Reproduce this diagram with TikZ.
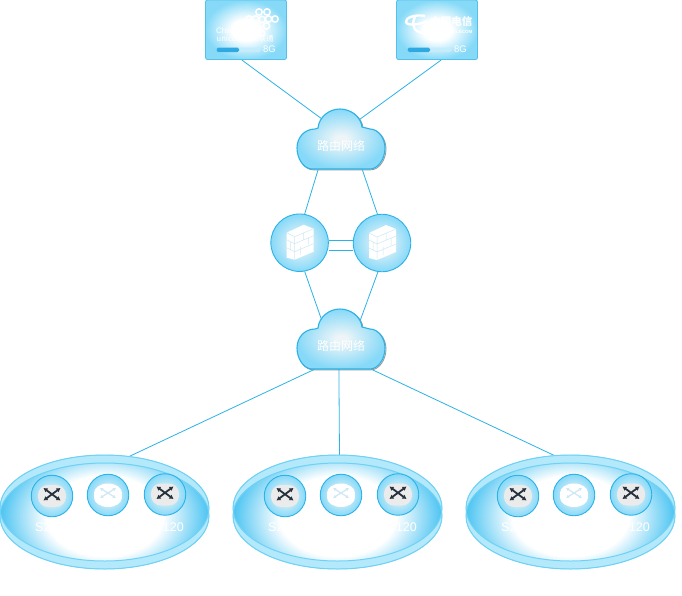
\documentclass[tikz,border=0pt]{standalone}
\usepackage{fontspec}
\setmainfont{Liberation Sans}
\newfontfamily\cjkfont{Noto Sans CJK SC}
\usetikzlibrary{arrows.meta,backgrounds,shapes.geometric}

\definecolor{linkblue}{HTML}{2BB2E6}
\definecolor{rimblue}{HTML}{6FD2F5}
\definecolor{bandblue}{HTML}{B4E8FB}
\definecolor{diskblue}{HTML}{4CC4F2}
\definecolor{boxblue}{HTML}{86DAF8}
\definecolor{ballblue}{HTML}{86D9F8}
\definecolor{ballcore}{HTML}{EEF5F8}
\definecolor{iconink}{HTML}{27313D}
\definecolor{brickline}{HTML}{CFE8F4}
\definecolor{trackblue}{HTML}{C5ECFB}
\definecolor{barblue}{HTML}{2EA9E2}

\pgfdeclareradialshading{diskglow}{\pgfpoint{0bp}{0bp}}{color(0bp)=(white); color(14bp)=(white); color(25bp)=(diskblue); color(50bp)=(diskblue)}
\pgfdeclareradialshading{boxglow}{\pgfpoint{0bp}{0bp}}{color(0bp)=(white); color(9bp)=(white); color(25bp)=(boxblue); color(50bp)=(boxblue)}
\pgfdeclareradialshading{ballglow}{\pgfpoint{0bp}{0bp}}{color(0bp)=(ballcore); color(3bp)=(ballcore); color(25bp)=(ballblue); color(50bp)=(ballblue)}

\newcommand{\cloudpath}{(-29,60) .. controls (-37,60) and (-44,50) .. (-44,39)
  .. controls (-44,28) and (-36,20) .. (-26,20) -- (-23,19)
  .. controls (-22,8) and (-12,0) .. (-1,0) .. controls (10,0) and (20,8) .. (21,18)
  -- (29,20) .. controls (37,20) and (44,29) .. (44,39)
  .. controls (44,50) and (37,60) .. (29,60) -- cycle}

% name, y of the top
\newcommand{\netcloud}[2]{
  \begin{scope}[shift={(341,#2)}]
    \draw[gray!80, line width=.9pt, shift={(1,.8)}] \cloudpath;
    \draw[linkblue, line width=1.1pt, shading=ballglow] \cloudpath;
    \node[cloudbox] (#1) at (0,30) {};
    \node[netlabel] (#1t) at (0,37) {路由网络};
  \end{scope}
}

% name, centre x
\newcommand{\groupdisk}[2]{
  \fill[bandblue, draw=rimblue] (#2,508) ellipse [x radius=104.5, y radius=53];
  \fill[bandblue, draw=rimblue] (#2,516) ellipse [x radius=104.5, y radius=53];
  \begin{scope}
    \clip (#2,508) ellipse [x radius=104.5, y radius=53];
    \clip (#2,516) ellipse [x radius=104.5, y radius=53];
    \shade[shading=diskglow] (#2,516) ellipse [x radius=104.5, y radius=72];
  \end{scope}
  \draw[rimblue, line width=1pt] (#2,508) ellipse [x radius=104.5, y radius=53];
  \draw[rimblue, line width=1pt] (#2,516) ellipse [x radius=104.5, y radius=53];
  \node[groupbox] (#1) at (#2,512) {};
}

% name, centre
\newcommand{\switchball}[2]{
  \node[ballnode, minimum size=41.5pt] (#1) at (#2) {};
  \begin{scope}[shift={(#2)}]
    \fill[gray!16, rounded corners=10pt] (-14,-11) rectangle (14,11);
    \draw[iconink, line width=1.8pt, {Latex[length=4pt,width=5pt]}-{Latex[length=4pt,width=5pt]}] (-8.5,-8) -- (8.5,4.5);
    \draw[iconink, line width=1.8pt, {Latex[length=4pt,width=5pt]}-{Latex[length=4pt,width=5pt]}] (-8.5,4.5) -- (8.5,-8);
  \end{scope}
}

\newcommand{\routerball}[2]{
  \node[ballnode, minimum size=41.5pt] (#1) at (#2) {};
  \begin{scope}[shift={(#2)}]
    \fill[white] (0,2.5) ellipse [x radius=14, y radius=9.5];
    \fill[white] (-14,-2) rectangle (14,2.5);
    \draw[brickline, line width=.4pt] (-14,-2) .. controls (-12,6) and (12,6) .. (14,-2);
    \fill[white] (0,-2) ellipse [x radius=14, y radius=9.5];
    \draw[brickline, line width=1.2pt, {Latex[length=3pt,width=3.5pt]}-{Latex[length=3pt,width=3.5pt]}] (-8,-7) -- (8,3);
    \draw[brickline, line width=1.2pt, {Latex[length=3pt,width=3.5pt]}-{Latex[length=3pt,width=3.5pt]}] (-8,3) -- (8,-7);
  \end{scope}
}

\newcommand{\firewallball}[2]{
  \node[ballnode, minimum size=57.5pt] (#1) at (#2) {};
  \begin{scope}[shift={(#2)}]
    \fill[white] (-13,-10) -- (4,-18) -- (14,-14) -- (14,9) -- (-5,17) -- (-13,15) -- cycle;
    \draw[brickline, line width=.5pt] (-13,-10) -- (-5,-6) -- (14,-14) (-5,-6) -- (-5,17)
      (-5,1) -- (14,-7) (-5,9) -- (14,1) (-13,-3) -- (-5,1) (-13,5) -- (-5,9)
      (4,-10) -- (4,-3) (9,-5) -- (9,2) (1,4) -- (1,12) (-9,-1) -- (-9,7);
  \end{scope}
}

% name, centre x
\newcommand{\linebox}[2]{
  \node[linecard] (#1) at (#2,29.8) {};
  \fill[trackblue, rounded corners=1.5pt] (#2-29.5,47.7) rectangle (#2+14.5,52);
  \fill[barblue, rounded corners=1.5pt] (#2-29.5,47.7) rectangle (#2-7,52);
  \node[sizelabel] (#1s) at (#2+23.5,49) {8G};
}

\begin{document}
\begin{tikzpicture}[x=1pt, y=-1pt,
    linkline/.style={linkblue, line width=.8pt},
    cloudbox/.style={rectangle, inner sep=0pt, minimum width=88pt, minimum height=60pt},
    groupbox/.style={ellipse, inner sep=0pt, minimum width=209pt, minimum height=114pt},
    netlabel/.style={text=white, inner sep=0pt, font=\cjkfont\fontsize{12}{14}\selectfont},
    ballnode/.style={circle, draw=linkblue, line width=.9pt, inner sep=0pt, shading=ballglow},
    linecard/.style={rectangle, draw=linkblue!80!white, line width=.8pt, rounded corners=2pt, minimum width=81pt, minimum height=59.5pt, inner sep=0pt, shading=boxglow},
    sizelabel/.style={text=white, inner sep=0pt, font=\fontsize{9.5}{10}\selectfont},
    portlabel/.style={text=white, inner sep=0pt, font=\fontsize{12.5}{14}\selectfont}
  ]
  \useasboundingbox (0,0) rectangle (682,595);

  \linebox{unicom}{246}
  \linebox{telecom}{437}

  % unicom knot and name
  \foreach \kx/\ky in {259/12, 267/12, 249/19, 255.5/19, 262/19.5, 268.5/19, 275/19, 256.5/26, 266.5/26, 261.5/33}
    \draw[white, line width=1.5pt] (\kx,\ky) circle (3.2);
  \node[white, inner sep=0pt, anchor=west, font=\fontsize{8}{9}\selectfont] (cuname) at (216,30.5) {China};
  \node[white, inner sep=0pt, anchor=west, font=\cjkfont\fontsize{7.6}{9}\selectfont] (cuname2) at (216.5,38.5) {unicom中国联通};

  % telecom swoosh and name
  \draw[white, line width=2.4pt] (425,16) .. controls (415,14) and (405,18) .. (406,22) .. controls (407,26) and (420,25) .. (427,21);
  \draw[white, line width=2.4pt] (415,17) .. controls (411,24) and (414,33) .. (424,33);
  \node[white, inner sep=0pt, anchor=east, font=\cjkfont\bfseries\fontsize{10.5}{12}\selectfont] (ctname) at (472.5,22) {中国电信};
  \node[white, inner sep=0pt, anchor=east, font=\bfseries\fontsize{4.5}{5}\selectfont] (ctname2) at (472.5,31.5) {CHINA TELECOM};

  \netcloud{neta}{109}
  \netcloud{netb}{309}
  \coordinate (netahub) at (341,133);
  \coordinate (netbl) at (322,321);
  \coordinate (netbr) at (360,321);

  \firewallball{fwa}{299.6,242.7}
  \firewallball{fwb}{382,243}

  \groupdisk{diska}{104.5}
  \groupdisk{diskb}{337.5}
  \groupdisk{diskc}{570.5}

  \foreach \gid/\gx in {a/0, b/233, c/466} {
    \switchball{swl\gid}{52+\gx,496}
    \routerball{rt\gid}{108+\gx,495}
    \switchball{swr\gid}{165+\gx,494.5}
    \node[portlabel, anchor=west] (pl\gid) at (35+\gx,527.5) {S25};
    \node[portlabel, anchor=east] (pr\gid) at (184+\gx,527.5) {120};
  }

  \begin{pgfonlayer}{background}
    \draw[linkline] (unicom.262) -- (netahub);
    \draw[linkline] (telecom.278) -- (netahub);
    \draw[linkline] (neta.233.7) -- (fwa.80.7);
    \draw[linkline] (neta.305.4) -- (fwb.99);
    \draw[linkline] (fwa.280.6) -- (netbl);
    \draw[linkline] (fwb.262) -- (netbr);
    \draw[linkline] (netb.229) -- (diska.66);
    \draw[linkline] (netb.266.2) -- (diskb.88.5);
    \draw[linkline] (netb.315) -- (diskc.106);
  \end{pgfonlayer}
  \draw[linkline] (fwa.east |- 0,240.7) -- (fwb.west |- 0,240.7);
  \draw[linkline] (fwa.east |- 0,250) -- (fwb.west |- 0,250);
\end{tikzpicture}
\end{document}
